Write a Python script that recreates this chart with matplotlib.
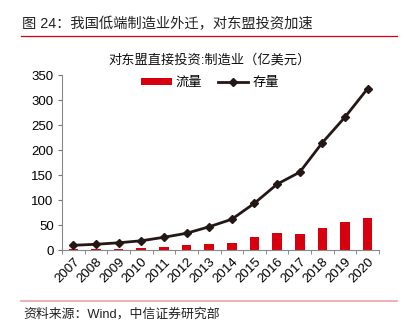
import numpy as np
import matplotlib
matplotlib.use("Agg")
import matplotlib.pyplot as plt
from matplotlib.lines import Line2D

plt.rcParams['font.family'] = ['Liberation Sans', 'Noto Sans CJK SC', 'DejaVu Sans']

years = ["2007", "2008", "2009", "2010", "2011", "2012", "2013",
         "2014", "2015", "2016", "2017", "2018", "2019", "2020"]
flow = [2, 2, 2.5, 4.5, 6, 10, 12.5, 15, 26.5, 35, 32.5, 45, 56.5, 64]
stock = [10, 12, 15, 19, 26, 34, 47, 62, 94, 132, 156, 215, 266, 323]

red = "#d7000f"
dark = "#231815"

fig = plt.figure(figsize=(4.04, 3.30), dpi=100)

# header and footer
fig.text(22 / 404, 1 - 24 / 330, "图 24：我国低端制造业外迁，对东盟投资加速",
         fontsize=10.3, va="center", ha="left", color="#222222")
fig.add_artist(Line2D([21 / 404, 397 / 404], [1 - 36 / 330, 1 - 36 / 330],
                      color=red, lw=0.9))
fig.add_artist(Line2D([21 / 404, 397 / 404], [1 - 300.5 / 330, 1 - 300.5 / 330],
                      color="#eba3a3", lw=1.2))
fig.text(23 / 404, 1 - 314 / 330, "资料来源：Wind，中信证券研究部",
         fontsize=9.3, va="center", ha="left", color="#222222")

fig.text(210 / 404, 1 - 60 / 330, "对东盟直接投资:制造业（亿美元）",
         fontsize=9.5, va="center", ha="center", color="#111111")

ax = fig.add_axes([62 / 404, 1 - 250.3 / 330, 317 / 404, 175.3 / 330])
x = np.arange(len(years))
bars = ax.bar(x, flow, width=0.42, color=red, label="流量", zorder=2)
line, = ax.plot(x, stock, color=dark, lw=2, marker="D", markersize=4,
                label="存量", zorder=3)

ax.set_xlim(-0.5, len(years) - 0.5)
ax.set_ylim(0, 350)
ax.set_yticks(range(0, 351, 50))
ax.set_xticks(x)
ax.set_xticklabels(years, rotation=45, ha="right", rotation_mode="anchor",
                   fontsize=9.5)
ax.set_xticks(np.arange(-0.5, len(years)), minor=True)
ax.tick_params(axis="x", which="major", length=0, pad=4)
ax.tick_params(axis="x", which="minor", length=3, color="#777777")
ax.tick_params(axis="y", length=3, color="#777777", labelsize=9.5, pad=3)
for s in ["top", "right"]:
    ax.spines[s].set_visible(False)
for s in ["left", "bottom"]:
    ax.spines[s].set_color("#888888")
    ax.spines[s].set_linewidth(0.8)

fig.legend([bars, line], ["流量", "存量"], loc="center",
           bbox_to_anchor=(210 / 404, 1 - 83 / 330), ncol=2, frameon=False,
           fontsize=9.5, handlelength=2.3, handleheight=0.5,
           columnspacing=1.2, handletextpad=0.3)

fig.savefig("out.png", dpi=100)
